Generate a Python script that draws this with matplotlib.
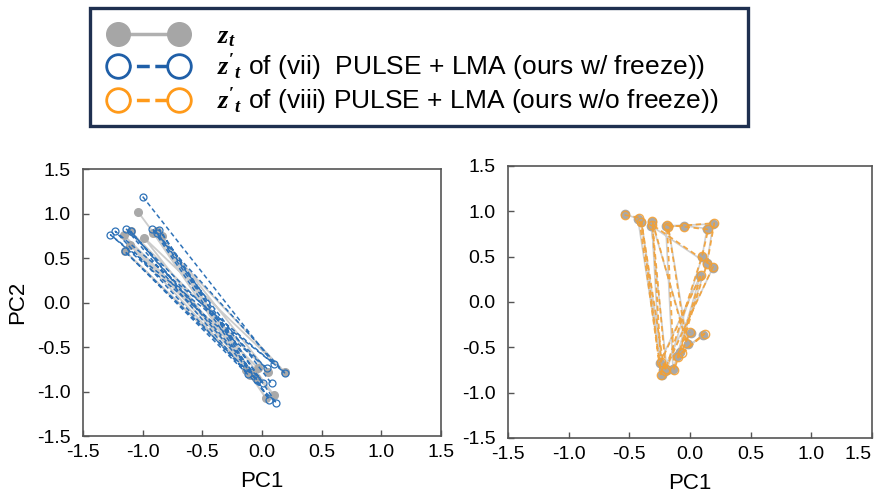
import numpy as np
import matplotlib.pyplot as plt
from matplotlib.lines import Line2D
from matplotlib.patches import Rectangle

plt.rcParams['font.family'] = ['Liberation Sans', 'DejaVu Sans']
plt.rcParams['mathtext.fontset'] = 'custom'
plt.rcParams['mathtext.it'] = 'Liberation Serif:italic:bold'
plt.rcParams['mathtext.rm'] = 'Liberation Serif:bold'

# left panel: z_t and z'_t of (vii) w/ freeze
z_left_x = [-1.04, 0.10, -1.16, -0.03, -1.11, -0.13, -0.99, 0.19, -0.91, 0.03,
            -0.84, -0.08, -1.15, -0.05, -1.10, 0.05, -0.88, -0.10]
z_left_y = [1.02, -1.04, 0.76, -0.74, 0.65, -0.76, 0.73, -0.78, 0.78, -1.07,
            0.75, -0.80, 0.58, -0.85, 0.80, -0.78, 0.80, -0.82]
zp_left_x = [-1.00, 0.10, -1.27, 0.04, -1.14, -0.12, -1.23, 0.19, -0.92, 0.06,
             -0.86, 0.12, -1.15, -0.04, -1.10, 0.01, -0.88, 0.08]
zp_left_y = [1.19, -0.69, 0.76, -0.74, 0.83, -0.80, 0.80, -0.79, 0.83, -1.09,
             0.82, -1.13, 0.575, -0.87, 0.80, -0.91, 0.78, -0.91]

# right panel: z_t and z'_t of (viii) w/o freeze
z_right_x = [-0.54, -0.43, -0.23, -0.40, -0.22, 0.19, -0.32, -0.19, 0.10, 0.14,
             -0.05, -0.20, -0.14, 0.14, 0.19, -0.18, -0.02, -0.315, -0.25, 0.085,
             -0.11, 0.11, -0.08, 0.01]
z_right_y = [0.97, 0.92, -0.81, 0.885, -0.75, 0.38, 0.84, -0.75, 0.50, 0.81,
             0.84, 0.84, -0.74, 0.43, 0.86, 0.84, -0.46, 0.885, -0.67, 0.29,
             -0.60, -0.36, -0.55, -0.34]
zp_right_x = [-0.54, -0.42, -0.24, -0.40, -0.21, 0.19, -0.31, -0.20, 0.10, 0.15,
              -0.05, -0.19, -0.13, 0.14, 0.20, -0.18, -0.03, -0.31, -0.24, 0.09,
              -0.10, 0.12, -0.07, 0.00]
zp_right_y = [0.96, 0.93, -0.80, 0.88, -0.76, 0.39, 0.85, -0.74, 0.51, 0.80,
              0.83, 0.85, -0.75, 0.42, 0.87, 0.83, -0.45, 0.89, -0.66, 0.30,
              -0.61, -0.35, -0.56, -0.33]

ticks = [-1.5, -1.0, -0.5, 0.0, 0.5, 1.0, 1.5]

gray = '#a9a9a9'
blue = '#2e72b8'
orange = '#f2a035'

fig = plt.figure(figsize=(8.75, 4.93), dpi=100)
ax1 = fig.add_axes([0.0949, 0.1156, 0.409, 0.5416])
ax2 = fig.add_axes([0.5806, 0.1116, 0.416, 0.5517])

# left
ax1.plot(z_left_x, z_left_y, '-', color='#c0c0c0', lw=1.3, alpha=0.8, zorder=1)
ax1.plot(z_left_x, z_left_y, 'o', color=gray, ms=5.5, zorder=2)
ax1.plot(zp_left_x, zp_left_y, '--', color=blue, lw=1.1, dashes=(3, 2),
         marker='o', ms=5, mfc='none', mec=blue, mew=0.9, zorder=3)

# right
ax2.plot(z_right_x, z_right_y, '-', color='#d0d0d0', lw=1.2, zorder=1)
ax2.plot(z_right_x, z_right_y, 'o', color=gray, ms=6, zorder=2)
ax2.plot(zp_right_x, zp_right_y, '--', color=orange, lw=1.3, dashes=(3, 2),
         marker='o', ms=6, mfc='none', mec=orange, mew=1.0, alpha=0.9, zorder=3)

for ax in (ax1, ax2):
    ax.set_xlim(-1.5, 1.5)
    ax.set_ylim(-1.5, 1.5)
    ax.set_xticks(ticks)
    ax.set_yticks(ticks)
    ax.set_xticklabels([f'{t:.1f}' for t in ticks])
    ax.set_yticklabels([f'{t:.1f}' for t in ticks])
    ax.tick_params(direction='in', length=4, width=1, colors='#555555',
                   labelcolor='black', labelsize=14)
    ax.tick_params(axis='x', pad=6)
    ax.tick_params(axis='y', pad=9)
    for s in ax.spines.values():
        s.set_color('#555555')
        s.set_linewidth(1.2)
    ax.set_xlabel('PC1', fontsize=16, labelpad=7)

ax1.set_ylabel('PC2', fontsize=16, labelpad=6)
ax2.get_xticklabels()[-1].set_horizontalalignment('right')
ax2.get_xticklabels()[-1].set_x(1.62)

handles = [
    Line2D([], [], color='#b0b0b0', lw=2.5, marker='o', ms=17, mfc='#a6a6a6', mec='#a6a6a6'),
    Line2D([], [], color='#1f5fa8', lw=2.5, ls='--', marker='o', ms=17, mfc='white',
           mec='#1f5fa8', mew=2),
    Line2D([], [], color='#ff9a1a', lw=2.5, ls='--', marker='o', ms=17, mfc='white',
           mec='#ff9a1a', mew=2),
]
labels = [
    r'$z_t$',
    r"$z'_t$ of (vii)  PULSE + LMA (ours w/ freeze))",
    r"$z'_t$ of (viii) PULSE + LMA (ours w/o freeze))",
]
leg = fig.legend(handles, labels, loc='upper left', bbox_to_anchor=(0.1257, 0.951),
                 numpoints=2, fontsize=19, handlelength=2.9, handletextpad=1.15,
                 labelspacing=0.1, borderpad=0, borderaxespad=0, frameon=False)

# legend frame box
fig.patches.append(Rectangle((0.1029, 0.7444), 0.752, 0.2394, transform=fig.transFigure,
                             fill=False, edgecolor='#1f3050', linewidth=2.4, zorder=0))

fig.savefig('out.png', dpi=100)
